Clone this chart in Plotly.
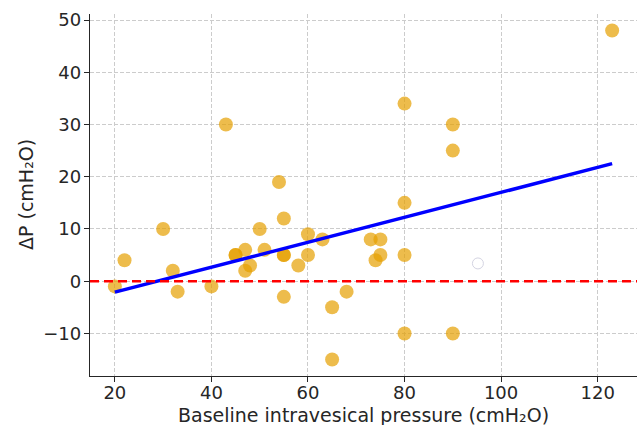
import plotly.graph_objects as go

baseline = [20, 22, 30, 32, 33, 40, 43, 45, 45, 47, 47, 48, 50, 51, 54, 55, 55, 55, 55,
            58, 60, 60, 63, 65, 65, 68, 73, 74, 75, 75, 80, 80, 80, 80, 90, 90, 90, 123]
delta_p = [-1, 4, 10, 2, -2, -1, 30, 5, 5, 6, 2, 3, 10, 6, 19, 12, 5, 5, -3,
           3, 9, 5, 8, -5, -15, -2, 8, 4, 8, 5, 34, 15, 5, -10, 30, 25, -10, 48]
outlier_x = [95.2]
outlier_y = [3.4]
fit_x = [20, 123]
fit_y = [-2.1, 22.5]

xticks = [20, 40, 60, 80, 100, 120]
yticks = [-10, 0, 10, 20, 30, 40, 50]
ytext = ["\u221210" if v < 0 else str(v) for v in yticks]

W, H = 643, 425
L, R, T, B = 90, 6, 14, 49
pw, ph = W - L - R, H - T - B

fig = go.Figure()
fig.add_trace(go.Scatter(x=baseline, y=delta_p, mode="markers",
                         marker=dict(size=14, color="rgba(230,159,0,0.7)", line=dict(width=0)),
                         showlegend=False))
fig.add_trace(go.Scatter(x=outlier_x, y=outlier_y, mode="markers",
                         marker=dict(size=11, color="rgba(0,0,0,0)", line=dict(width=1, color="#d4d4e2")),
                         showlegend=False))
fig.add_trace(go.Scatter(x=fit_x, y=fit_y, mode="lines",
                         line=dict(color="#0000ff", width=3.5), showlegend=False))
fig.add_hline(y=0, line=dict(color="#ff0000", width=2.5, dash="9px,5px"))

font = dict(family="DejaVu Sans", size=18, color="#262626")
fig.update_layout(
    width=W, height=H,
    margin=dict(l=L, r=R, t=T, b=B, autoexpand=False),
    plot_bgcolor="white", paper_bgcolor="white",
    font=font,
    xaxis=dict(range=[14.85, 128.15], tickvals=xticks, showgrid=True, gridcolor="#cccccc",
               griddash="4px,2px", gridwidth=0.8, zeroline=False, showline=True, linecolor="#262626",
               linewidth=1.3, ticks="outside", ticklen=5, tickcolor="#262626", automargin=False,
               ticklabelstandoff=-5),
    yaxis=dict(range=[-18.15, 51.15], tickvals=yticks, ticktext=ytext, showgrid=True,
               gridcolor="#cccccc", griddash="4px,2px", gridwidth=0.8, zeroline=False,
               showline=True, linecolor="#262626", linewidth=1.3, ticks="outside", ticklen=5,
               tickcolor="#262626", automargin=False, ticklabelstandoff=-1),
    annotations=[
        dict(text="Baseline intravesical pressure (cmH\u2082O)", xref="paper", yref="paper",
             x=0.5, y=-(415 - (H - B)) / ph, xanchor="center", yanchor="middle",
             showarrow=False, font=dict(size=19)),
        dict(text="\u0394P (cmH\u2082O)", xref="paper", yref="paper", textangle=-90,
             x=-(L - 26) / pw, y=0.5, xanchor="center", yanchor="middle",
             showarrow=False, font=dict(size=19)),
    ],
)
fig.write_html("out.html", config={"displayModeBar": False},
               post_script="document.body.style.margin='0';")
